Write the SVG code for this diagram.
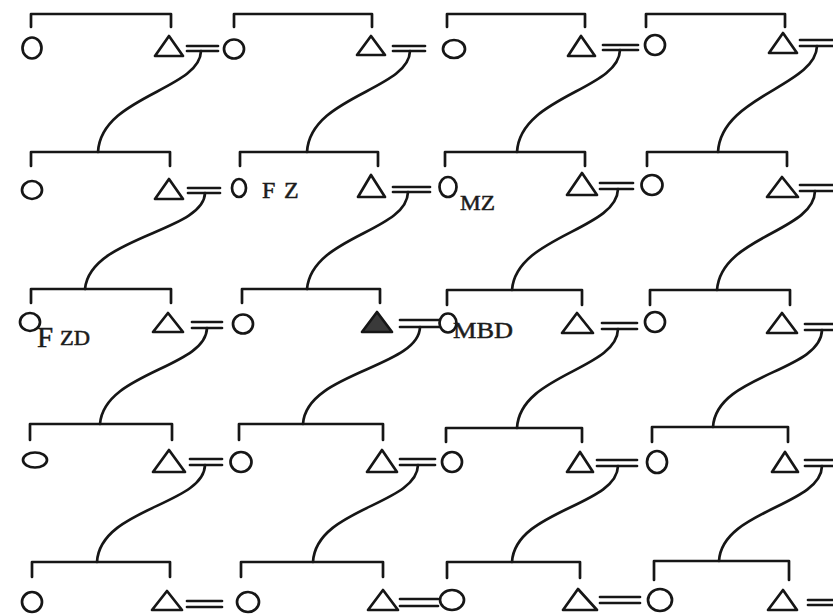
<svg xmlns="http://www.w3.org/2000/svg" width="833" height="614" viewBox="0 0 833 614">
<style>
.ln{fill:none;stroke:#161616;stroke-width:2.7;stroke-linecap:round;stroke-linejoin:round}
.sym{fill:none;stroke:#161616;stroke-width:2.7;stroke-linejoin:round}
.ego{fill:#3a3a3a;stroke:#161616;stroke-width:2.7;stroke-linejoin:round}
.lbl{font-family:"Liberation Serif","Times New Roman",serif;fill:#1c1c1c;stroke:#1c1c1c;stroke-width:0.5}
</style>
<rect width="833" height="614" fill="#ffffff"/>
<g id="connectors">
  <!-- sibling brackets -->
  <path class="ln" d="M31,27V14H171V27 M234,27V14H372V27 M447,27V14H585V27 M646,27V14H785V27"/>
  <path class="ln" d="M31,166V152H170V166 M240,166V152H378V166 M445,166V152H585V166 M647,166V152H787V166"/>
  <path class="ln" d="M31,303V289H171V303 M242,303V289H380V303 M447,305V290H582V305 M650,305V290H790V305"/>
  <path class="ln" d="M30,440V424H172V440 M239,440V424H383V440 M446,442V428H582V442 M652,442V427H788V442"/>
  <path class="ln" d="M32,577V562H170V577 M241,577V562H383V577 M447,578V562H580V578 M654,580V561H789V580"/>
  <!-- marriage signs -->
  <path class="ln" d="M187,46H218 M187,51H218 M393,46H425 M393,51H425 M603,45H638 M603,50H638 M800,40H833 M800,46H833"/>
  <path class="ln" d="M188,188H220 M188,193H220 M393,187H430 M393,192H430 M600,183H633 M600,189H633 M800,185H833 M800,191H833"/>
  <path class="ln" d="M192,322H222 M192,328H222 M400,320H440 M400,327H440 M602,323H637 M602,329H637 M805,324H833 M805,330H833"/>
  <path class="ln" d="M190,459H222 M190,465H222 M400,459H435 M400,465H435 M597,460H637 M597,466H637 M805,460H833 M805,466H833"/>
  <path class="ln" d="M187,601H222 M187,607H222 M400,599H438 M400,606H438 M600,597H640 M600,603H640 M808,600H833 M808,605H833"/>
  <!-- descent curves -->
  <path class="ln" d="M201,51C200,90 101,96 98,152"/>
  <path class="ln" d="M410,51C409,90 310,96 307,152"/>
  <path class="ln" d="M620,50C619,90 520,96 517,152"/>
  <path class="ln" d="M817,46C816,86 721,96 718,152"/>
  <path class="ln" d="M205,193C204,232 90,236 85,289"/>
  <path class="ln" d="M408,192C407,232 312,236 307,289"/>
  <path class="ln" d="M618,189C617,230 516,236 512,290"/>
  <path class="ln" d="M815,191C814,232 721,236 717,290"/>
  <path class="ln" d="M207,328C206,368 104,372 100,424"/>
  <path class="ln" d="M420,327C419,368 306,372 303,424"/>
  <path class="ln" d="M618,329C617,370 520,374 517,428"/>
  <path class="ln" d="M822,330C821,372 716,374 713,427"/>
  <path class="ln" d="M205,465C204,505 100,508 97,562"/>
  <path class="ln" d="M418,465C417,505 316,508 313,562"/>
  <path class="ln" d="M618,466C617,506 515,510 512,562"/>
  <path class="ln" d="M822,466C821,506 722,510 719,561"/>
</g>
<!-- row 1 -->
<g id="r1-f1"><ellipse class="sym" cx="32" cy="48" rx="9.5" ry="10.5"/></g>
<g id="r1-m1"><polygon class="sym" points="155,56 169,36 183,56"/></g>
<g id="r1-f2"><ellipse class="sym" cx="234" cy="49" rx="10" ry="9.5"/></g>
<g id="r1-m2"><polygon class="sym" points="357,55 371,36 385,55"/></g>
<g id="r1-f3"><ellipse class="sym" cx="454" cy="49" rx="11" ry="9"/></g>
<g id="r1-m3"><polygon class="sym" points="568,56 581,36 595,56"/></g>
<g id="r1-f4"><ellipse class="sym" cx="655" cy="45" rx="10" ry="10"/></g>
<g id="r1-m4"><polygon class="sym" points="769,53 783,33 797,53"/></g>
<!-- row 2 -->
<g id="r2-f1"><ellipse class="sym" cx="32" cy="190" rx="10" ry="9"/></g>
<g id="r2-m1"><polygon class="sym" points="155,199 169,179 183,199"/></g>
<g id="r2-f2"><ellipse class="sym" cx="239" cy="188" rx="7" ry="9"/><text class="lbl" x="262" y="198" font-size="24">F<tspan x="284">Z</tspan></text></g>
<g id="r2-m2"><polygon class="sym" points="358,197 371,175 385,197"/></g>
<g id="r2-f3"><ellipse class="sym" cx="448" cy="187" rx="8.5" ry="10"/><text class="lbl" x="460" y="210" font-size="22" textLength="35" lengthAdjust="spacingAndGlyphs">MZ</text></g>
<g id="r2-m3"><polygon class="sym" points="567,195 582,173 597,195"/></g>
<g id="r2-f4"><ellipse class="sym" cx="652" cy="185" rx="10.5" ry="10"/></g>
<g id="r2-m4"><polygon class="sym" points="767,197 782,177 798,197"/></g>
<!-- row 3 -->
<g id="r3-f1"><ellipse class="sym" cx="30" cy="322" rx="10" ry="9"/><text class="lbl" x="37" y="347" font-size="29">F<tspan x="60" y="345" font-size="20" textLength="30" lengthAdjust="spacingAndGlyphs">ZD</tspan></text></g>
<g id="r3-m1"><polygon class="sym" points="153,332 168,313 183,332"/></g>
<g id="r3-f2"><ellipse class="sym" cx="243" cy="324" rx="10" ry="9.5"/></g>
<g id="r3-ego"><polygon class="ego" points="362,332 377,312 392,332"/></g>
<g id="r3-f3"><ellipse class="sym" cx="448" cy="323" rx="8.5" ry="9.5"/><text class="lbl" x="453" y="338" font-size="24" textLength="60" lengthAdjust="spacingAndGlyphs">MBD</text></g>
<g id="r3-m3"><polygon class="sym" points="562,333 577,313 593,333"/></g>
<g id="r3-f4"><ellipse class="sym" cx="655" cy="322" rx="10" ry="10"/></g>
<g id="r3-m4"><polygon class="sym" points="767,333 782,313 797,333"/></g>
<!-- row 4 -->
<g id="r4-f1"><ellipse class="sym" cx="35" cy="460" rx="12" ry="7.5"/></g>
<g id="r4-m1"><polygon class="sym" points="153,472 169,450 185,472"/></g>
<g id="r4-f2"><ellipse class="sym" cx="241" cy="462" rx="10.5" ry="10"/></g>
<g id="r4-m2"><polygon class="sym" points="367,472 382,450 397,472"/></g>
<g id="r4-f3"><ellipse class="sym" cx="452" cy="462" rx="10" ry="10"/></g>
<g id="r4-m3"><polygon class="sym" points="567,472 580,452 593,472"/></g>
<g id="r4-f4"><ellipse class="sym" cx="657" cy="462" rx="10" ry="11"/></g>
<g id="r4-m4"><polygon class="sym" points="772,472 785,452 798,472"/></g>
<!-- row 5 -->
<g id="r5-f1"><ellipse class="sym" cx="32" cy="602" rx="10" ry="10"/></g>
<g id="r5-m1"><polygon class="sym" points="152,610 167,591 182,610"/></g>
<g id="r5-f2"><ellipse class="sym" cx="248" cy="602" rx="11" ry="10"/></g>
<g id="r5-m2"><polygon class="sym" points="368,610 383,590 398,610"/></g>
<g id="r5-f3"><ellipse class="sym" cx="452" cy="600" rx="12" ry="10"/></g>
<g id="r5-m3"><polygon class="sym" points="563,610 578,589 597,610"/></g>
<g id="r5-f4"><ellipse class="sym" cx="660" cy="600" rx="12" ry="11"/></g>
<g id="r5-m4"><polygon class="sym" points="768,610 783,590 797,610"/></g>
</svg>
